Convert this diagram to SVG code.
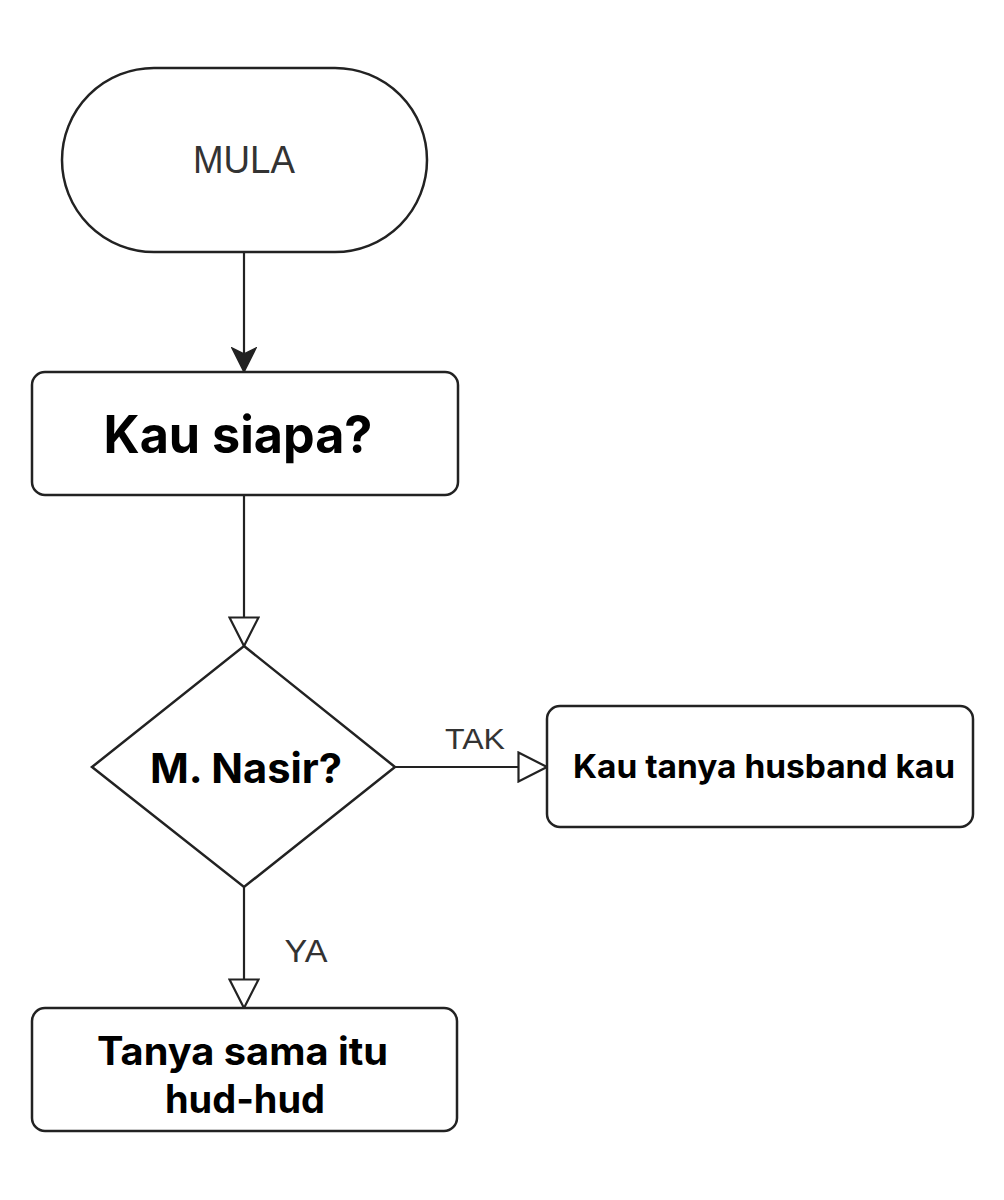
<svg xmlns="http://www.w3.org/2000/svg" width="1004" height="1200" viewBox="0 0 1004 1200">
  <style>
    .shape { fill: #ffffff; stroke: #222222; stroke-width: 2.5; }
    .edge { fill: none; stroke: #222222; stroke-width: 2.2; }
    .light { font-family: "Liberation Sans", Arial, sans-serif; fill: #333333; text-anchor: middle; }
    .bold { font-family: Inter, "Noto Sans", "Liberation Sans", sans-serif; font-weight: 700; fill: #000000; text-anchor: middle; }
  </style>
  <defs>
    <marker id="arrowFilled" viewBox="0 0 26 26" refX="25" refY="13" markerWidth="26" markerHeight="26" markerUnits="userSpaceOnUse" orient="auto">
      <path d="M1,1 L25,13 L1,25 L7,13 Z" fill="#222222" stroke="#222222" stroke-width="1.5" stroke-linejoin="miter"/>
    </marker>
    <marker id="arrowOpen" viewBox="0 0 32 32" refX="30" refY="16" markerWidth="32" markerHeight="32" markerUnits="userSpaceOnUse" orient="auto">
      <path d="M1.5,1.5 L30,16 L1.5,30.5 Z" fill="#ffffff" stroke="#222222" stroke-width="2.2" stroke-linejoin="miter"/>
    </marker>
  </defs>
  <rect width="1004" height="1200" fill="#ffffff"/>

  <g id="connectors">
    <path class="edge" d="M244,252 L244,372" marker-end="url(#arrowFilled)"/>
    <path class="edge" d="M244,495 L244,646" marker-end="url(#arrowOpen)"/>
    <path class="edge" d="M395,767 L547,767" marker-end="url(#arrowOpen)"/>
    <path class="edge" d="M244,887 L244,1008" marker-end="url(#arrowOpen)"/>
    <text class="light" x="475" y="749" font-size="30" textLength="60" lengthAdjust="spacingAndGlyphs">TAK</text>
    <text class="light" x="306" y="962" font-size="31" textLength="43" lengthAdjust="spacingAndGlyphs">YA</text>
  </g>

  <g id="node-mula">
    <rect class="shape" x="62" y="68" width="365" height="184" rx="92" ry="92"/>
    <text class="light" x="244" y="173" font-size="38" textLength="102" lengthAdjust="spacingAndGlyphs">MULA</text>
  </g>

  <g id="node-kau-siapa">
    <rect class="shape" x="32" y="372" width="426" height="123" rx="13" ry="13"/>
    <text class="bold" x="238" y="453" font-size="52" textLength="269" lengthAdjust="spacingAndGlyphs">Kau siapa?</text>
  </g>

  <g id="node-decision">
    <path class="shape" d="M244,646 L395,767 L244,887 L92,767 Z"/>
    <text class="bold" x="246" y="783" font-size="41" textLength="192" lengthAdjust="spacingAndGlyphs">M. Nasir?</text>
  </g>

  <g id="node-husband">
    <rect class="shape" x="547" y="706" width="426" height="121" rx="13" ry="13"/>
    <text class="bold" x="764" y="778" font-size="32" textLength="382" lengthAdjust="spacingAndGlyphs">Kau tanya husband kau</text>
  </g>

  <g id="node-hudhud">
    <rect class="shape" x="32" y="1008" width="425" height="123" rx="13" ry="13"/>
    <text class="bold" x="242.5" y="1065" font-size="39" textLength="291" lengthAdjust="spacingAndGlyphs">Tanya sama itu</text>
    <text class="bold" x="245" y="1113" font-size="39" textLength="160" lengthAdjust="spacingAndGlyphs">hud-hud</text>
  </g>
</svg>
